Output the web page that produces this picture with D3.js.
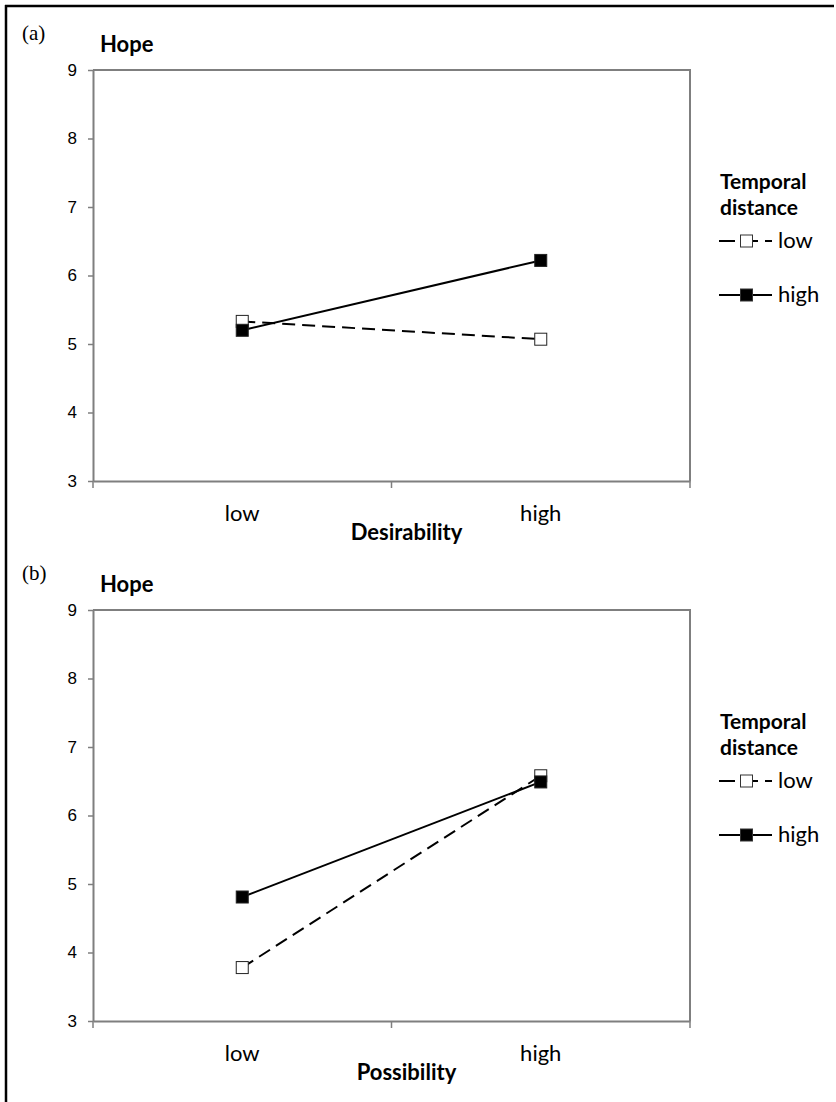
<!DOCTYPE html>
<html>
<head>
<meta charset="utf-8">
<script src="https://d3js.org/d3.v7.min.js"></script>
<style>
  body { margin: 0; background: #fff; }
</style>
</head>
<body>
<script>
// data
const categories = ["low", "high"];
const yTicks = [3, 4, 5, 6, 7, 8, 9];
const seriesNames = ["low", "high"];          // temporal distance
const desirabilityLow = [5.33, 5.07];
const desirabilityHigh = [5.20, 6.22];
const possibilityLow = [3.78, 6.58];
const possibilityHigh = [4.81, 6.49];

const W = 836, H = 1102;
const svg = d3.select("body").append("svg")
    .attr("width", W).attr("height", H);

const arial = "'Liberation Sans', Arial, sans-serif";
const cal = "Lato, 'Open Sans', sans-serif";

// outer frame (top and left only)
svg.append("line").attr("x1", 5).attr("x2", 834).attr("y1", 6).attr("y2", 6)
    .attr("stroke", "#000").attr("stroke-width", 2.5);
svg.append("line").attr("x1", 6).attr("x2", 6).attr("y1", 5).attr("y2", H)
    .attr("stroke", "#000").attr("stroke-width", 2.5);

const left = 93, right = 690, plotH = 411;
const grey = "#7f7f7f";

function label(g, txt, x, y, size, bold, anchor) {
    return g.append("text")
        .attr("x", x).attr("y", y)
        .attr("font-family", cal).attr("font-size", size)
        .attr("font-weight", bold ? "bold" : "normal")
        .attr("text-anchor", anchor || "start")
        .attr("fill", "#000").text(txt);
}

function panel(top, tag, xTitle, lowVals, highVals) {
    let g = svg.append("g").attr("transform", "translate(0," + top + ")");

    let x = d3.scaleBand().domain(categories).range([left, right]);
    let y = d3.scaleLinear().domain([3, 9]).range([plotH, 0]);

    // frame top + right
    g.append("path")
        .attr("d", "M" + left + ",0H" + right + "V" + plotH)
        .attr("fill", "none").attr("stroke", grey).attr("stroke-width", 2);

    // y axis
    let ya = g.append("g").attr("transform", "translate(" + left + ",0)")
        .call(d3.axisLeft(y).tickValues(yTicks).tickFormat(d3.format("d"))
            .tickSize(5).tickPadding(11).tickSizeOuter(0));
    ya.select(".domain").attr("stroke", grey).attr("stroke-width", 2);
    ya.selectAll(".tick line").attr("stroke", grey).attr("stroke-width", 1.5);
    ya.selectAll(".tick text").attr("font-family", arial).attr("font-size", 17).attr("fill", "#000");

    // x axis
    let xa = g.append("g").attr("transform", "translate(0," + plotH + ")")
        .call(d3.axisBottom(x).tickSize(0).tickPadding(24).tickSizeOuter(0));
    xa.select(".domain").attr("stroke", grey).attr("stroke-width", 2);
    xa.selectAll(".tick text").attr("font-family", cal).attr("font-size", 22).attr("fill", "#000");

    // category boundary ticks
    let edges = [x("low"), x("high"), x("high") + x.bandwidth()];
    g.selectAll(".edge").data(edges).enter().append("line")
        .attr("x1", d => d).attr("x2", d => d)
        .attr("y1", plotH).attr("y2", plotH + 7)
        .attr("stroke", grey).attr("stroke-width", 1.5);

    label(g, xTitle, (left + right) / 2 + 15, plotH + 59, 22, true, "middle");
    label(g, "Hope", 100, -18, 22, true);
    g.append("text").attr("x", 22).attr("y", -30)
        .attr("font-family", "'Liberation Serif', 'Times New Roman', serif")
        .attr("font-size", 21).text(tag);

    let cx = d => x(d) + x.bandwidth() / 2;
    let line = d3.line().x((d, i) => cx(categories[i])).y(d => y(d));

    let series = [
        { name: seriesNames[0], vals: lowVals, dash: "13,7", legDash: "16,5,18,7,7", fill: "#fff" },
        { name: seriesNames[1], vals: highVals, dash: null, legDash: null, fill: "#000" }
    ];

    series.forEach(s => {
        g.append("path").datum(s.vals)
            .attr("d", line)
            .attr("fill", "none").attr("stroke", "#000").attr("stroke-width", 2)
            .attr("stroke-dasharray", s.dash);
        g.selectAll(".m-" + s.name).data(s.vals).enter().append("rect")
            .attr("x", (d, i) => cx(categories[i]) - 6)
            .attr("y", d => y(d) - 6)
            .attr("width", 12).attr("height", 12)
            .attr("fill", s.fill).attr("stroke", "#222").attr("stroke-width", 1);
    });

    // legend
    let lg = g.append("g").attr("transform", "translate(719,0)");
    label(lg, "Temporal", 1, 119, 21, true);
    label(lg, "distance", 1, 145, 21, true);
    series.forEach((s, i) => {
        let ly = 171 + i * 54;
        lg.append("line").attr("x1", 0).attr("x2", 53).attr("y1", ly).attr("y2", ly)
            .attr("stroke", "#000").attr("stroke-width", 2)
            .attr("stroke-dasharray", s.legDash);
        lg.append("rect").attr("x", 21.5).attr("y", ly - 6).attr("width", 12).attr("height", 12)
            .attr("fill", s.fill).attr("stroke", "#333").attr("stroke-width", 1);
        label(lg, s.name, 59, ly + 7, 22, false);
    });
}

panel(70, "(a)", "Desirability", desirabilityLow, desirabilityHigh);
panel(610, "(b)", "Possibility", possibilityLow, possibilityHigh);
</script>
</body>
</html>
